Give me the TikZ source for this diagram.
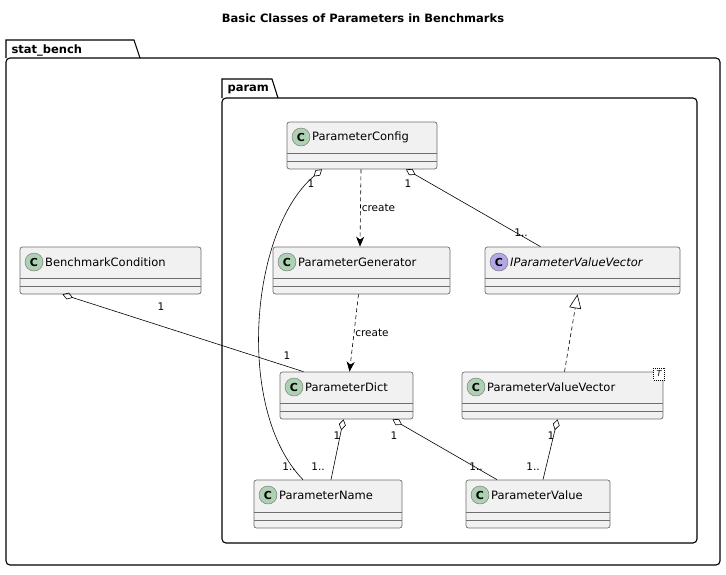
\documentclass[tikz,border=0pt]{standalone}
\usepackage{fontspec}
\setmainfont{DejaVu Sans}
\usetikzlibrary{arrows.meta,calc}
\definecolor{cfill}{HTML}{F1F1F1}
\definecolor{cborder}{HTML}{6E6E6E}
\definecolor{cgreen}{HTML}{ADD1B2}
\definecolor{cpurple}{HTML}{B4A7E5}
\tikzset{x=1pt,y=-1pt,
  cls/.style={draw=cborder,fill=cfill,rounded corners=2.5pt,line width=0.7pt,inner sep=0pt},
  pkg/.style={draw=black,line width=1.1pt},
  lbl/.style={font=\fontsize{10.5}{12}\selectfont,inner sep=1pt},
  cname/.style={font=\fontsize{11.5}{13}\selectfont,anchor=west,inner sep=0pt},
  agg/.style={draw=black,line width=0.6pt,{Diamond[open,length=11pt,width=7pt]}-},
  dep/.style={draw=black,line width=0.6pt,dash pattern=on 4pt off 3pt,-{Stealth[length=10pt,width=8pt,inset=3pt]}},
  real/.style={draw=black,line width=0.6pt,dash pattern=on 4pt off 3pt,-{Triangle[open,length=14pt,width=12pt]}},
  assoc/.style={draw=black,line width=0.6pt}}
\newcommand{\umlclass}[7]{% name, x1,y1,x2,y2, text, color/letter
  \node[cls,minimum width={#4-#2},minimum height={#5-#3}] (#1) at ({(#2+#4)/2},{(#3+#5)/2}) {};
  \draw[cborder,line width=0.6pt] (#2,#5-16) -- (#4,#5-16) (#2,#5-8) -- (#4,#5-8);
  \node[circle,draw=cborder,fill=#7,minimum size=18pt,inner sep=0pt,font=\bfseries\fontsize{11}{12}\selectfont] (#1icon) at (#2+14,#3+15) {\ifx#7cpurple I\else C\fi};
  \node[cname] (#1name) at (#2+25,#3+15) {#6};
}
\begin{document}
\begin{tikzpicture}
\useasboundingbox (0,0) rectangle (726,574);
\node[font=\bfseries\fontsize{11.5}{13}\selectfont] (title) at (363,18) {Basic Classes of Parameters in Benchmarks};
% packages
\draw[pkg] (6,58) -- (6,40) -- (134,40) -- (140,58);
\draw[pkg,rounded corners=4pt] (6,58) -- (720,58) -- (720,565) -- (6,565) -- cycle;
\node[font=\bfseries\fontsize{11.5}{13}\selectfont,anchor=west] (pkgsb) at (8,50) {stat\_bench};
\draw[pkg] (222,98) -- (222,79) -- (272,79) -- (278,98);
\draw[pkg,rounded corners=4pt] (222,98) -- (697,98) -- (697,543) -- (222,543) -- cycle;
\node[font=\bfseries\fontsize{11.5}{13}\selectfont,anchor=west] (pkgp) at (224,89) {param};
% classes
\umlclass{cfg}{287}{122}{437}{169}{ParameterConfig}{cgreen}
\umlclass{gen}{273}{247}{450}{294}{ParameterGenerator}{cgreen}
\umlclass{ipvv}{485}{247}{680}{294}{\itshape IParameterValueVector}{cpurple}
\umlclass{bc}{20}{247}{201}{294}{BenchmarkCondition}{cgreen}
\umlclass{dict}{280}{372}{413}{419}{ParameterDict}{cgreen}
\umlclass{pvv}{462}{372}{663}{419}{ParameterValueVector}{cgreen}
\umlclass{pname}{254}{480}{402}{528}{ParameterName}{cgreen}
\umlclass{pval}{466}{480}{610}{528}{ParameterValue}{cgreen}
\node[draw=black,dash pattern=on 1pt off 1pt,fill=white,font=\itshape\fontsize{8}{9}\selectfont,inner sep=1pt,minimum width=11pt,minimum height=12pt] (tmpl) at (659,374) {T};
% connectors
\draw[dep] ([xshift=-1]cfg.south) -- ([xshift=-1.5]gen.north) node[lbl,midway,right] {create};
\draw[agg] ([xshift=-40]cfg.south) .. controls (250,230) and (235,410) .. ([xshift=-25]pname.north);
\node[lbl] (l1) at (311,184) {1}; \node[lbl] (l2) at (289,467) {1..};
\draw[agg] ([xshift=44]cfg.south) -- ([xshift=-42]ipvv.north);
\node[lbl] (l3) at (408,184) {1}; \node[lbl] (l4) at (521,233) {1..};
\draw[dep] ([xshift=-3]gen.south) -- ([xshift=3]dict.north) node[lbl,midway,right] {create};
\draw[real] ([xshift=2]pvv.north) -- ([xshift=-5]ipvv.south);
\draw[agg] ([xshift=-48]bc.south) -- ([xshift=-43]dict.north);
\node[lbl] (l5) at (161,307) {1}; \node[lbl] (l6) at (287,356) {1};
\draw[agg] ([xshift=-3]dict.south) -- ([xshift=3]pname.north);
\node[lbl] (l7) at (337,436) {1}; \node[lbl] (l8) at (318,467) {1..};
\draw[agg] ([xshift=46]dict.south) -- ([xshift=-41]pval.north);
\node[lbl] (l9) at (394,436) {1}; \node[lbl] (l10) at (476,467) {1..};
\draw[agg] ([xshift=-5]pvv.south) -- ([xshift=5]pval.north);
\node[lbl] (l11) at (551,436) {1}; \node[lbl] (l12) at (533,467) {1..};
\end{tikzpicture}
\end{document}
